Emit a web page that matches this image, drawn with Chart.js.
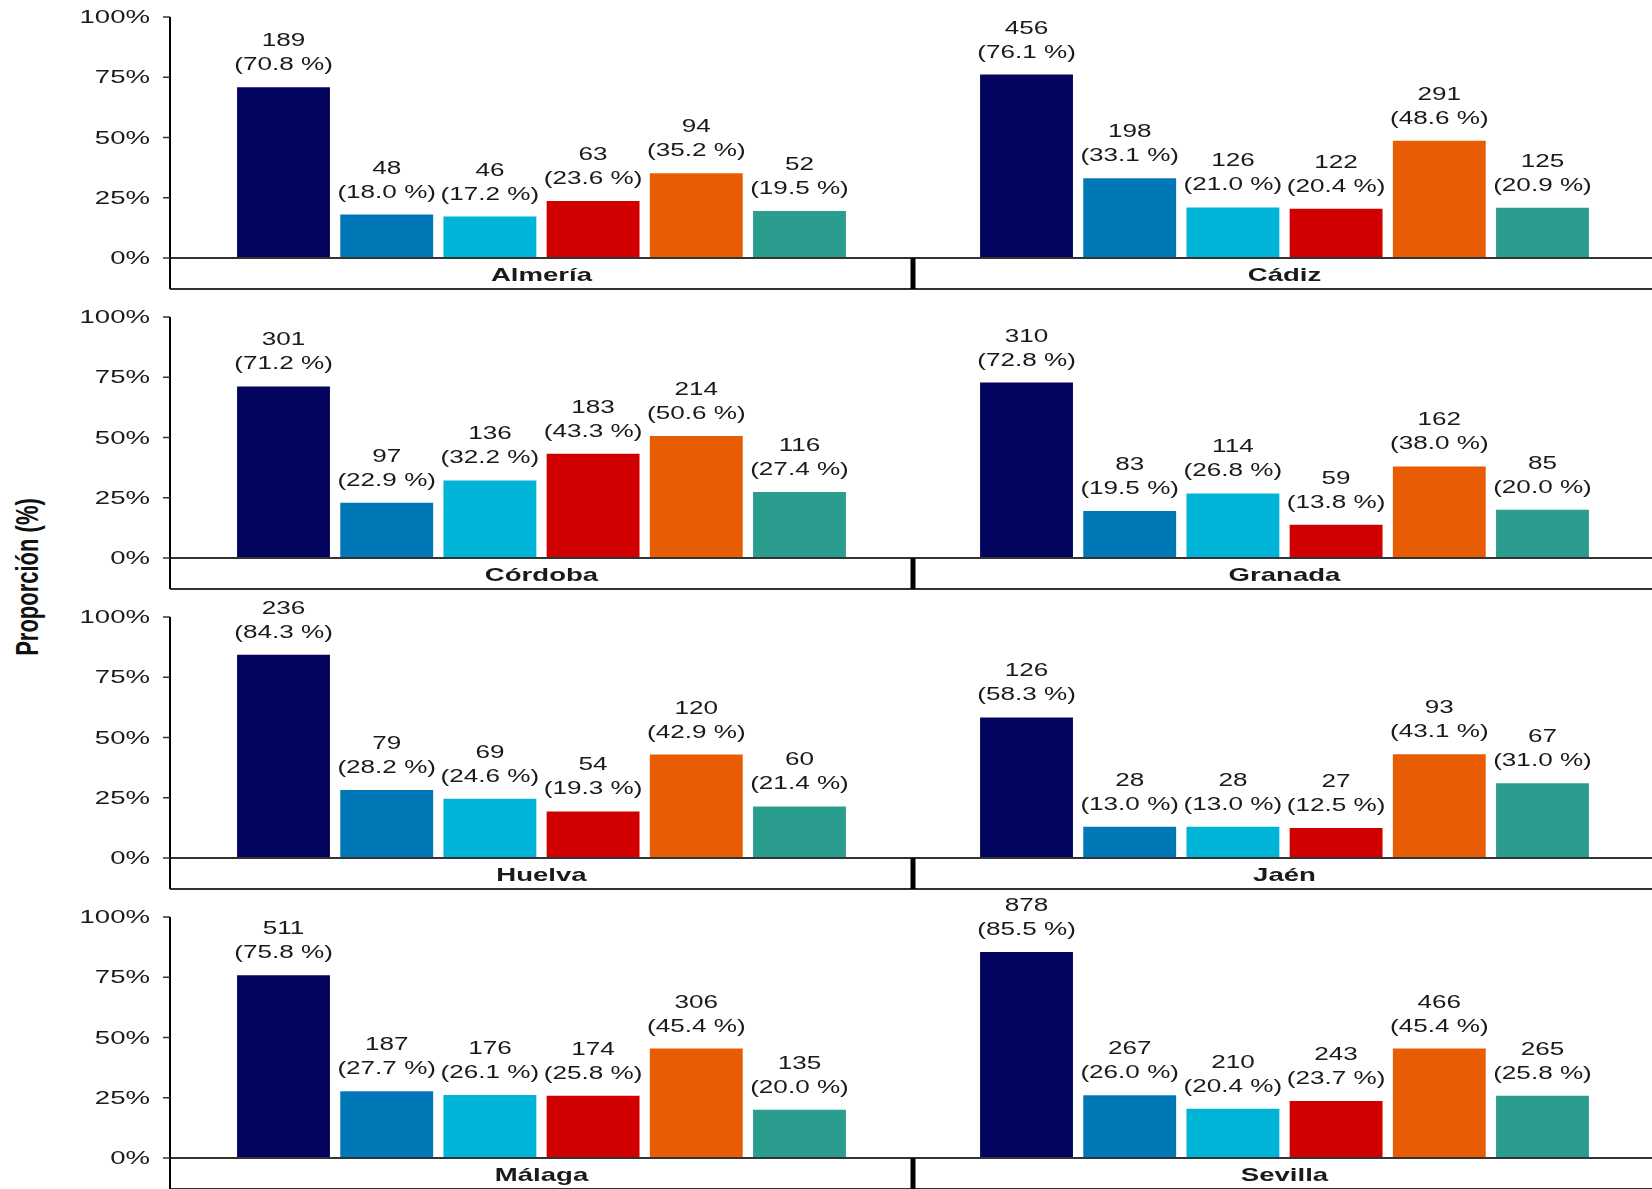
<!DOCTYPE html>
<html>
<head>
<meta charset="utf-8">
<script src="https://cdn.jsdelivr.net/npm/chart.js@4.4.1/dist/chart.umd.min.js"></script>
<style>
  html, body { margin: 0; padding: 0; background: #fff; }
  body { position: relative; width: 1652px; height: 1189px; overflow: hidden; }
  canvas { position: absolute; }
  #ytitle {
    position: absolute; left: 28px; top: 577px; white-space: nowrap;
    font: bold 22px "Liberation Sans", Arial, sans-serif; color: #111;
    transform: translate(-50%, -50%) scaleX(1.45) rotate(-90deg);
  }
</style>
</head>
<body>
<div id="ytitle">Proporción (%)</div>
<script>
// facets, in reading order (left column, right column)
const provinces = ["Almería", "Cádiz", "Córdoba", "Granada", "Huelva", "Jaén", "Málaga", "Sevilla"];
// six bars per province
const barSlots = [1, 2, 3, 4, 5, 6];
const counts = [
    [189, 48, 46, 63, 94, 52],
    [456, 198, 126, 122, 291, 125],
    [301, 97, 136, 183, 214, 116],
    [310, 83, 114, 59, 162, 85],
    [236, 79, 69, 54, 120, 60],
    [126, 28, 28, 27, 93, 67],
    [511, 187, 176, 174, 306, 135],
    [878, 267, 210, 243, 466, 265]
];
const percents = [
    [70.8, 18.0, 17.2, 23.6, 35.2, 19.5],
    [76.1, 33.1, 21.0, 20.4, 48.6, 20.9],
    [71.2, 22.9, 32.2, 43.3, 50.6, 27.4],
    [72.8, 19.5, 26.8, 13.8, 38.0, 20.0],
    [84.3, 28.2, 24.6, 19.3, 42.9, 21.4],
    [58.3, 13.0, 13.0, 12.5, 43.1, 31.0],
    [75.8, 27.7, 26.1, 25.8, 45.4, 20.0],
    [85.5, 26.0, 20.4, 23.7, 45.4, 25.8]
];
const yTicks = [0, 25, 50, 75, 100];
const barColors = ["#03045e", "#0077b6", "#00b4d8", "#d00000", "#e85d04", "#2a9d8f"];

const STRETCH = 1.45; // the picture is stretched sideways
const FONT = '"Liberation Sans", Arial, sans-serif';
const EXTRA_TOP = 40; // room above each panel so tall labels are not cut

function drawText(ctx, text, x, y, font, align, baseline) {
    ctx.save();
    ctx.translate(x, y);
    ctx.scale(STRETCH, 1);
    ctx.font = font;
    ctx.textAlign = align;
    ctx.textBaseline = baseline;
    ctx.fillStyle = "#1a1a1a";
    ctx.fillText(text, 0, 0);
    ctx.restore();
}

// axis, strip and bar labels for one facet
const panelPlugin = {
    id: "panel",
    afterDatasetsDraw(chart, args, opts) {
        const ctx = chart.ctx;
        const area = chart.chartArea;
        const yScale = chart.scales.y;
        const stripH = 31;

        // value labels above the bars
        const meta = chart.getDatasetMeta(0);
        meta.data.forEach((bar, i) => {
            drawText(ctx, String(counts[opts.idx][i]), bar.x, bar.y - 41, "18px " + FONT, "center", "alphabetic");
            drawText(ctx, "(" + percents[opts.idx][i].toFixed(1) + " %)", bar.x, bar.y - 17, "18px " + FONT, "center", "alphabetic");
        });

        // strip with the province name
        ctx.save();
        ctx.fillStyle = "#fff";
        ctx.fillRect(area.left, area.bottom, area.right - area.left, stripH);
        ctx.strokeStyle = "#333";
        ctx.lineWidth = 2;
        ctx.beginPath();
        ctx.moveTo(area.left, area.bottom);
        ctx.lineTo(area.right, area.bottom);
        ctx.moveTo(area.left, area.bottom + stripH);
        ctx.lineTo(area.right, area.bottom + stripH);
        ctx.stroke();
        ctx.strokeStyle = "#000";
        ctx.lineWidth = 3;
        ctx.beginPath();
        if (opts.left) {
            ctx.moveTo(area.right - 1, area.bottom);
            ctx.lineTo(area.right - 1, area.bottom + stripH);
        } else {
            ctx.moveTo(area.left + 1, area.bottom);
            ctx.lineTo(area.left + 1, area.bottom + stripH);
        }
        ctx.stroke();
        ctx.restore();
        drawText(ctx, provinces[opts.idx], (area.left + area.right) / 2, area.bottom + stripH / 2 + 2, "bold 19px " + FONT, "center", "middle");

        // y axis only on the left column
        if (opts.left) {
            ctx.save();
            ctx.strokeStyle = "#000";
            ctx.lineWidth = 2;
            ctx.beginPath();
            ctx.moveTo(area.left, area.top);
            ctx.lineTo(area.left, area.bottom + stripH);
            ctx.stroke();
            ctx.strokeStyle = "#333";
            ctx.lineWidth = 1.5;
            yTicks.forEach(v => {
                const py = yScale.getPixelForValue(v);
                ctx.beginPath();
                ctx.moveTo(area.left - 7, py);
                ctx.lineTo(area.left, py);
                ctx.stroke();
            });
            ctx.restore();
            yTicks.forEach(v => {
                const py = yScale.getPixelForValue(v);
                drawText(ctx, v + "%", area.left - 20, py + 1, "19px " + FONT, "right", "middle");
            });
        }
    }
};

provinces.forEach((name, idx) => {
    const left = idx % 2 === 0;
    const row = Math.floor(idx / 2);
    const canvas = document.createElement("canvas");
    canvas.width = left ? 913 : 743;
    canvas.height = 300 + EXTRA_TOP;
    canvas.style.left = (left ? 0 : 913) + "px";
    canvas.style.top = (row * 300 - EXTRA_TOP) + "px";
    document.body.appendChild(canvas);

    new Chart(canvas.getContext("2d"), {
        type: "bar",
        data: {
            datasets: [{
                data: barSlots.map((s, i) => ({ x: s, y: percents[idx][i] })),
                backgroundColor: barColors,
                borderWidth: 0,
                barPercentage: 0.9,
                categoryPercentage: 1
            }]
        },
        plugins: [panelPlugin],
        options: {
            responsive: false,
            animation: false,
            layout: { padding: { left: left ? 170 : 0, right: 0, top: 17 + EXTRA_TOP, bottom: 42 } },
            plugins: {
                legend: { display: false },
                tooltip: { enabled: false },
                panel: { idx, left }
            },
            scales: {
                x: { type: "linear", min: -0.1, max: 7.1, display: false, offset: false },
                y: { min: 0, max: 100, display: false }
            }
        }
    });
});
</script>
</body>
</html>
